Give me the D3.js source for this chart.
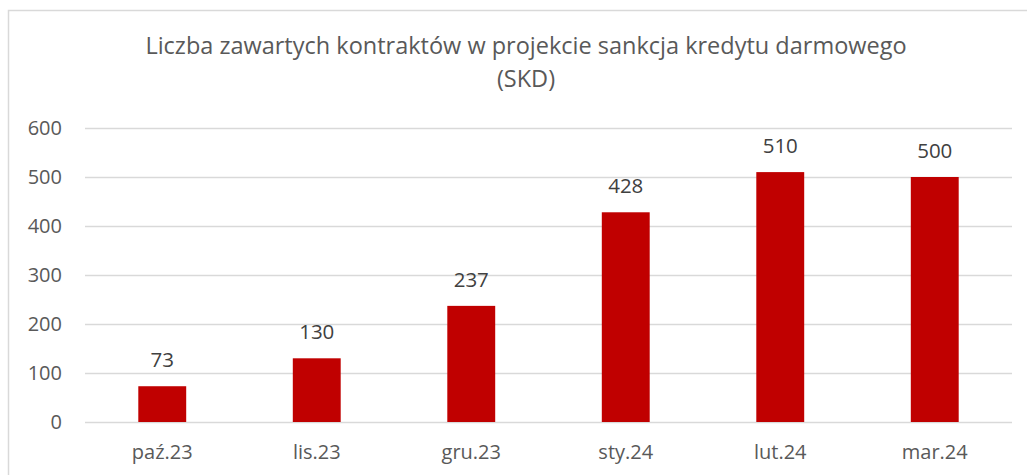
<!DOCTYPE html>
<html>
<head>
<meta charset="utf-8">
<script src="https://cdn.jsdelivr.net/npm/d3@7"></script>
<style>
  body { margin: 0; background: #fff; }
  text { font-family: "Open Sans", sans-serif; }
</style>
</head>
<body>
<div id="chart"></div>
<script>
// data
const months = ["paź.23", "lis.23", "gru.23", "sty.24", "lut.24", "mar.24"];
const contracts = [73, 130, 237, 428, 510, 500];
const yTicks = [0, 100, 200, 300, 400, 500, 600];
const titleLines = ["Liczba zawartych kontraktów w projekcie sankcja kredytu darmowego", "(SKD)"];

const W = 1027, H = 475;
const margin = {top: 128, right: 15, bottom: 53, left: 85};
const width = W - margin.left - margin.right,
      height = H - margin.top - margin.bottom;

const svg = d3.select("#chart")
  .append("svg")
  .attr("width", W)
  .attr("height", H);

// chart area border (only top and left visible in the crop)
svg.append("rect")
  .attr("x", 8.5).attr("y", 10.5)
  .attr("width", W + 20).attr("height", H + 20)
  .attr("fill", "none")
  .attr("stroke", "#d9d9d9")
  .attr("stroke-width", 1.5);

// title
svg.append("text")
  .attr("x", 526)
  .attr("y", 54)
  .attr("text-anchor", "middle")
  .attr("fill", "#595959")
  .style("font-size", "23.5px")
  .selectAll("tspan")
  .data(titleLines)
  .join("tspan")
  .attr("x", 526)
  .attr("dy", (d, i) => i == 0 ? 0 : 33)
  .text(d => d);

const g = svg.append("g")
  .attr("transform", `translate(${margin.left}, ${margin.top})`);

const x = d3.scaleBand()
  .domain(months)
  .range([0, width])
  .paddingInner(0.69)
  .paddingOuter(0.345);

const y = d3.scaleLinear()
  .domain([0, 600])
  .range([height, 0]);

// gridlines + y labels
const yAxis = g.append("g")
  .call(d3.axisLeft(y).tickValues(yTicks).tickSize(-width).tickPadding(23));
yAxis.select(".domain").remove();
yAxis.selectAll(".tick line").attr("stroke", "#d9d9d9").attr("stroke-width", 1.5);
yAxis.selectAll(".tick text")
  .attr("fill", "#595959")
  .style("font-size", "20px");

// x labels
const xAxis = g.append("g")
  .attr("transform", `translate(0, ${height})`)
  .call(d3.axisBottom(x).tickSize(0).tickPadding(23));
xAxis.select(".domain").remove();
xAxis.selectAll(".tick text")
  .attr("fill", "#595959")
  .style("font-size", "20px");

// bars
g.selectAll(".bar")
  .data(contracts)
  .join("rect")
  .attr("class", "bar")
  .attr("x", (d, i) => x(months[i]))
  .attr("y", d => y(d))
  .attr("width", x.bandwidth())
  .attr("height", d => height - y(d))
  .attr("fill", "#c00000");

// value labels
g.selectAll(".lbl")
  .data(contracts)
  .join("text")
  .attr("class", "lbl")
  .attr("x", (d, i) => x(months[i]) + x.bandwidth() / 2)
  .attr("y", d => y(d) - 19)
  .attr("text-anchor", "middle")
  .attr("fill", "#404040")
  .style("font-size", "20.5px")
  .text(d => d);
</script>
</body>
</html>
